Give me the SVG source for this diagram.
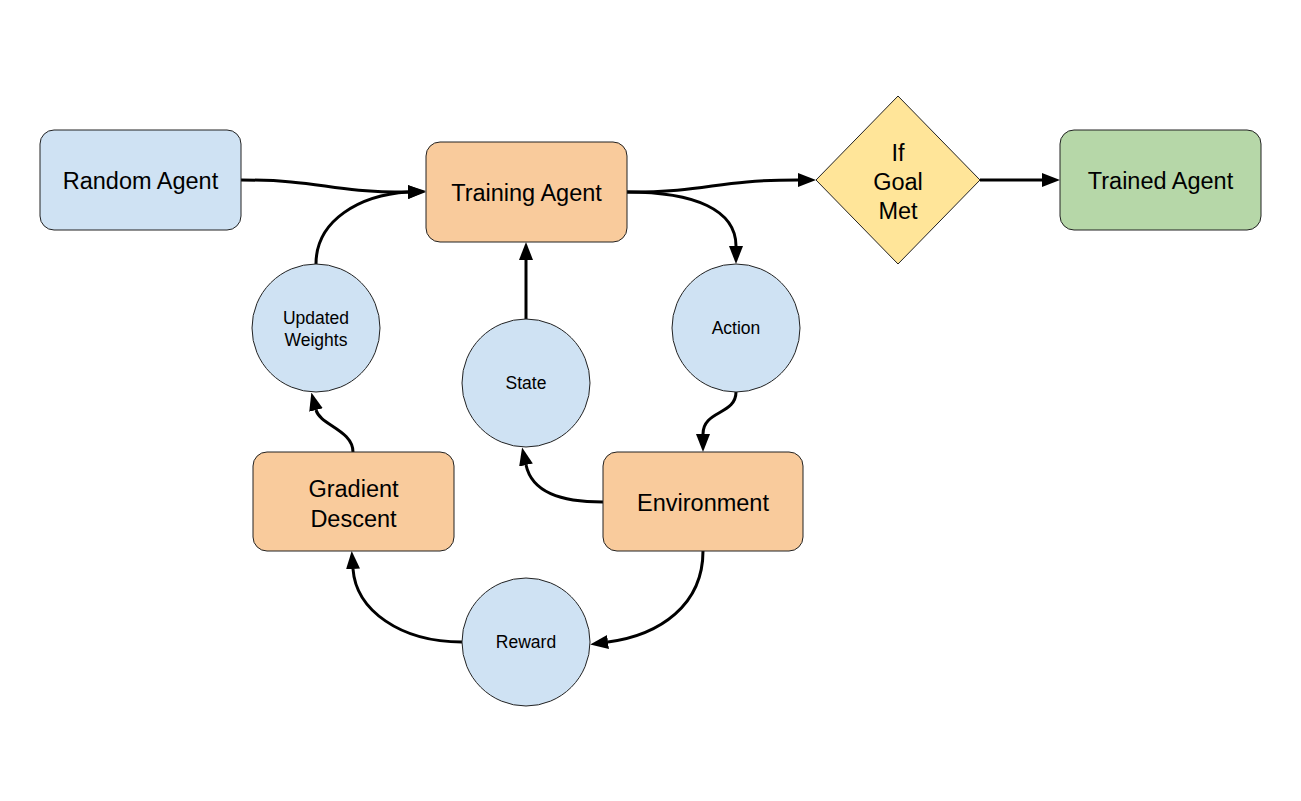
<svg xmlns="http://www.w3.org/2000/svg" width="1301" height="801" viewBox="0 0 1301 801">
<style>
.box{stroke:#222;stroke-width:1}
.blue{fill:#cfe2f3}
.orange{fill:#f9cb9c}
.green{fill:#b6d7a8}
.yellow{fill:#ffe599}
.t{font-family:"Liberation Sans",Arial,sans-serif;font-size:23.5px;fill:#000;text-anchor:middle}
.s{font-family:"Liberation Sans",Arial,sans-serif;font-size:17.5px;fill:#000;text-anchor:middle}
.c{fill:none;stroke:#000;stroke-width:3;marker-end:url(#arr)}
</style>
<defs>
<marker id="arr" viewBox="0 0 18 14" refX="0" refY="7" markerWidth="18" markerHeight="14" markerUnits="userSpaceOnUse" orient="auto">
<path d="M0,0 L18,7 L0,14 z" fill="#000"/>
</marker>
</defs>
<rect width="1301" height="801" fill="#fff"/>
<g id="connectors">
<path class="c" d="M241,180 C325,180 325,192 408,192"/>
<path class="c" d="M627,192 C712,192 712,180 798,180"/>
<path class="c" d="M980,180 L1042,180"/>
<path class="c" d="M627,192 C695,192 736,210 736,246"/>
<path class="c" d="M736,392 C736,415 703,410 703,434"/>
<path class="c" d="M603,502 C560,502 532,492 526,465"/>
<path class="c" d="M526,319 L526,260"/>
<path class="c" d="M703,551 C703,605 660,635 608,642"/>
<path class="c" d="M462,642 C400,642 356,610 353,569"/>
<path class="c" d="M353,452 C353,430 320,425 316,410"/>
<path class="c" d="M316,264 C316,220 360,195 408,192"/>
</g>
<g id="random-agent">
<rect class="box blue" x="40" y="130" width="201" height="100" rx="14"/>
<text class="t" x="140.5" y="188.5">Random Agent</text>
</g>
<g id="training-agent">
<rect class="box orange" x="426" y="142" width="201" height="100" rx="14"/>
<text class="t" x="526.5" y="200.5">Training Agent</text>
</g>
<g id="goal">
<polygon class="box yellow" points="898,96 980,180 898,264 816,180"/>
<text class="t" x="898" y="160.5">If</text>
<text class="t" x="898" y="189.5">Goal</text>
<text class="t" x="898" y="218.5">Met</text>
</g>
<g id="trained-agent">
<rect class="box green" x="1060" y="130" width="201" height="100" rx="14"/>
<text class="t" x="1160.5" y="188.5">Trained Agent</text>
</g>
<g id="updated-weights">
<circle class="box blue" cx="316" cy="328" r="64"/>
<text class="s" x="316" y="324">Updated</text>
<text class="s" x="316" y="346">Weights</text>
</g>
<g id="state">
<circle class="box blue" cx="526" cy="383" r="64"/>
<text class="s" x="526" y="389">State</text>
</g>
<g id="action">
<circle class="box blue" cx="736" cy="328" r="64"/>
<text class="s" x="736" y="334">Action</text>
</g>
<g id="gradient-descent">
<rect class="box orange" x="253" y="452" width="201" height="99" rx="14"/>
<text class="t" x="353.5" y="496.5">Gradient</text>
<text class="t" x="353.5" y="526.5">Descent</text>
</g>
<g id="environment">
<rect class="box orange" x="603" y="452" width="200" height="99" rx="14"/>
<text class="t" x="703" y="510.5">Environment</text>
</g>
<g id="reward">
<circle class="box blue" cx="526" cy="642" r="64"/>
<text class="s" x="526" y="648">Reward</text>
</g>
</svg>
